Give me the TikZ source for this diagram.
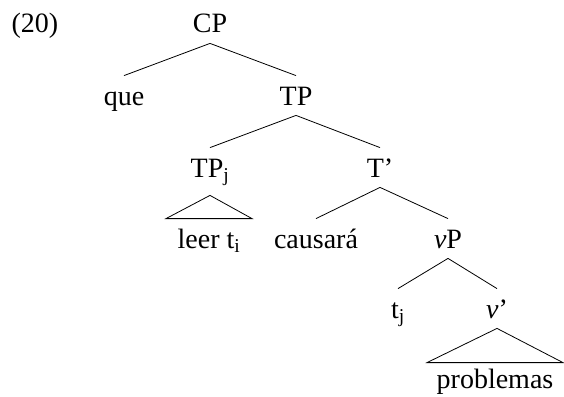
\documentclass[tikz,border=0pt]{standalone}
\usepackage{fontspec}
\setmainfont{Liberation Serif}
\usetikzlibrary{calc}

\tikzset{cat/.style={anchor=base, inner xsep=0pt, inner ysep=2pt,
    text height=27pt, text depth=8pt, font=\fontsize{28}{32}\selectfont}}

\begin{document}
\begin{tikzpicture}[x=1pt,y=-1pt,line width=0.8pt]
  \useasboundingbox (0,0) rectangle (564,396);
  \node[cat] (num) at (35,33) {(20)};
  \node[cat] (CP) at (210,33) {CP};
  \node[cat] (que) at (124,105) {que};
  \node[cat] (TP) at (296,105) {TP};
  \node[cat] (TPj) at (210,177) {TP\textsubscript{j}};
  \node[cat] (Tbar) at (380,177) {T’};
  \node[cat] (leer) at (209,248) {leer t\textsubscript{i}};
  \node[cat] (causara) at (316,248) {causará};
  \node[cat] (vP) at (448,248) {\textit{v}P};
  \node[cat] (tj) at (398,318) {t\textsubscript{j}};
  \node[cat] (vbar) at (497,318) {\textit{v}’};
  \node[cat] (problemas) at (495,388) {problemas};
  \draw (CP.south) -- (que.north);
  \draw (CP.south) -- (TP.north);
  \draw (TP.south) -- (TPj.north);
  \draw (TP.south) -- (Tbar.north);
  \draw (Tbar.south) -- (causara.north);
  \draw (Tbar.south) -- (vP.north);
  \draw (vP.south) -- (tj.north);
  \draw (vP.south) -- (vbar.north);
  % triangulos
  \coordinate (a1) at ($(TPj.south)+(0,8)$);
  \coordinate (l1) at ($(leer.north)+(-43,0)$);
  \coordinate (r1) at ($(leer.north)+(43,0)$);
  \draw (a1) -- (l1) -- (r1) -- cycle;
  \coordinate (l2) at ($(problemas.north)+(-68,4)$);
  \coordinate (r2) at ($(problemas.north)+(68,4)$);
  \draw (vbar.south) -- (l2) -- (r2) -- cycle;
\end{tikzpicture}
\end{document}
